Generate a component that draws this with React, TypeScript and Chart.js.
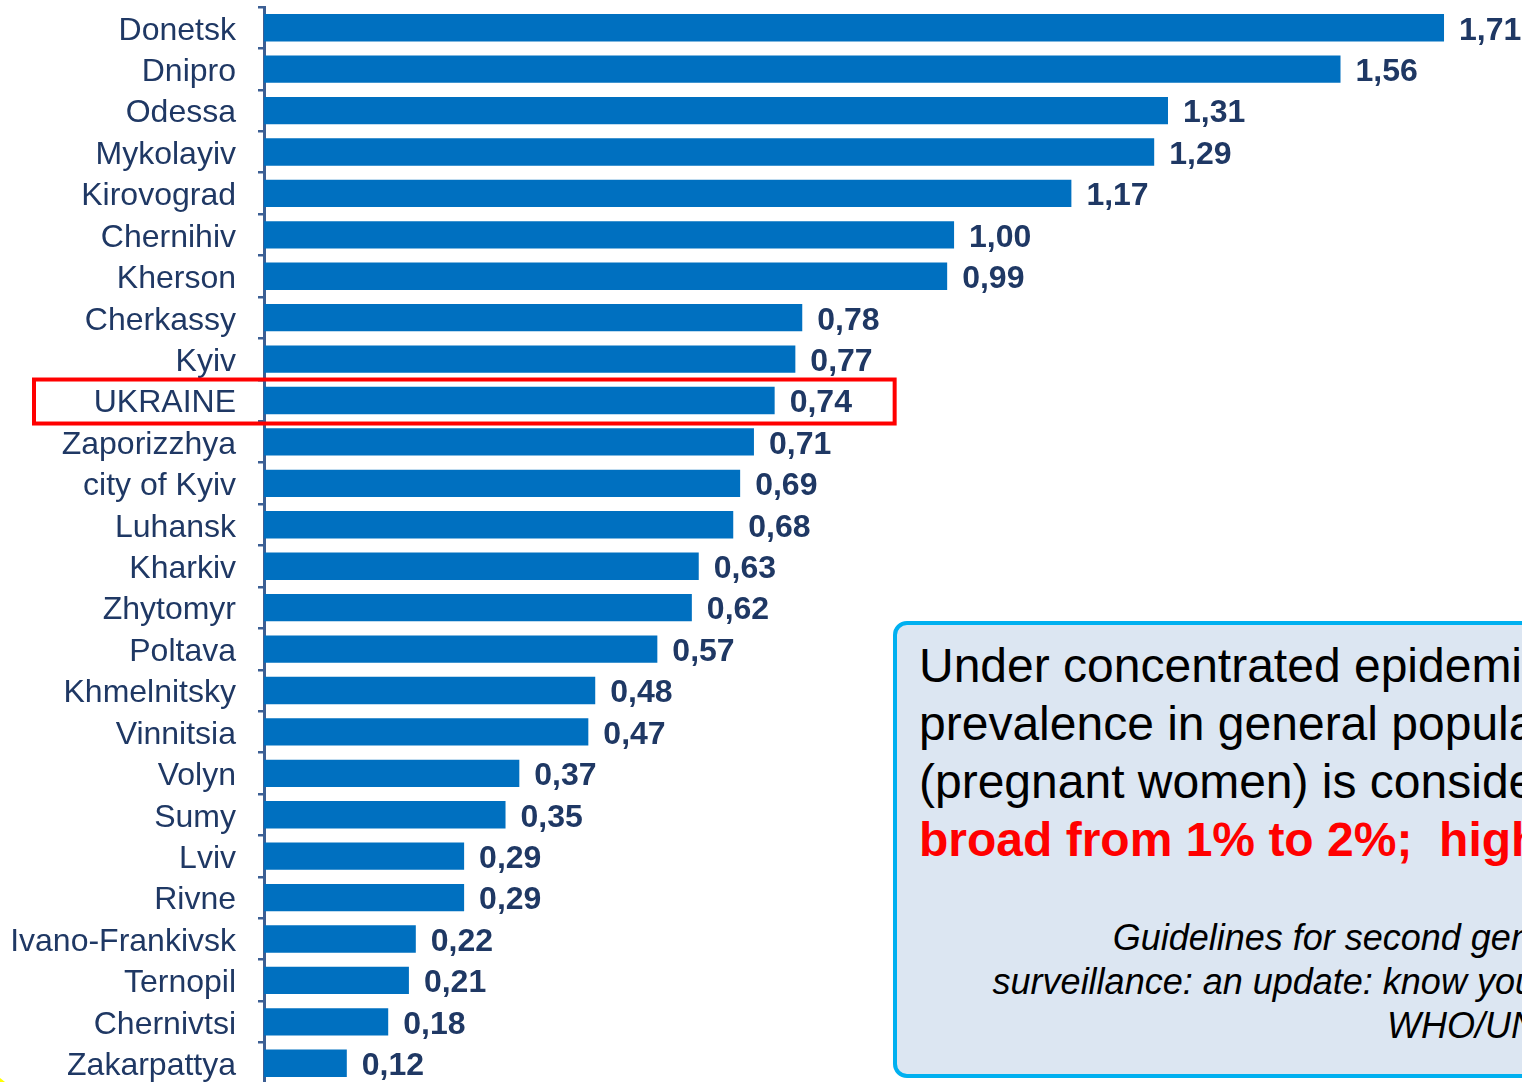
import React, { useEffect, useRef } from "react";
import { Chart, registerables } from "chart.js";

Chart.register(...registerables);

const categories = [
  "Donetsk", "Dnipro", "Odessa", "Mykolayiv", "Kirovograd", "Chernihiv", "Kherson",
  "Cherkassy", "Kyiv", "UKRAINE", "Zaporizzhya", "city of Kyiv", "Luhansk", "Kharkiv",
  "Zhytomyr", "Poltava", "Khmelnitsky", "Vinnitsia", "Volyn", "Sumy", "Lviv", "Rivne",
  "Ivano-Frankivsk", "Ternopil", "Chernivtsi", "Zakarpattya",
];
const values = [
  1.71, 1.56, 1.31, 1.29, 1.17, 1.0, 0.99, 0.78, 0.77, 0.74, 0.71, 0.69, 0.68, 0.63,
  0.62, 0.57, 0.48, 0.47, 0.37, 0.35, 0.29, 0.29, 0.22, 0.21, 0.18, 0.12,
];
const highlightCategory = "UKRAINE";
const xMax = 1.823;

const boxLines = [
  "Under concentrated epidemic, HIV",
  "prevalence in general population",
  "(pregnant women) is considered",
];
const boxRedLine = "broad from 1% to 2%;  high from 2%";
const citationLines = [
  "Guidelines for second generation HIV",
  "surveillance: an update: know your epidemic.",
  "WHO/UNAIDS 2013",
];

const FONT = "'Liberation Sans', Arial, Helvetica, sans-serif";
const NAVY = "#1F3864";

export default function App() {
  const canvasRef = useRef<HTMLCanvasElement | null>(null);

  useEffect(() => {
    const canvas = canvasRef.current;
    if (!canvas) return;

    const valueLabels = {
      id: "valueLabels",
      afterDatasetsDraw(chart: any) {
        const ctx = chart.ctx;
        const meta = chart.getDatasetMeta(0);
        ctx.save();
        ctx.font = `bold 32px ${FONT}`;
        ctx.fillStyle = NAVY;
        ctx.textAlign = "left";
        ctx.textBaseline = "middle";
        meta.data.forEach((bar: any, i: number) => {
          const txt = values[i].toFixed(2).replace(".", ",");
          ctx.fillText(txt, bar.x + 15, bar.y + 3);
        });
        ctx.restore();
      },
    };

    const highlightBox = {
      id: "highlightBox",
      afterDraw(chart: any) {
        const idx = categories.indexOf(highlightCategory);
        if (idx < 0) return;
        const ctx = chart.ctx;
        const y = chart.scales.y.getPixelForValue(idx);
        const xs = chart.scales.x;
        const left = chart.chartArea.left - 230;
        const right = xs.getPixelForValue(values[idx]) + 120;
        ctx.save();
        ctx.strokeStyle = "#FF0000";
        ctx.lineWidth = 4;
        ctx.strokeRect(left, y - 21, right - left, 44);
        ctx.restore();
      },
    };

    const chart = new Chart(canvas, {
      type: "bar",
      data: {
        labels: categories,
        datasets: [
          {
            data: values,
            backgroundColor: "#0070C0",
            borderWidth: 0,
            barPercentage: 0.66,
            categoryPercentage: 1,
          },
        ],
      },
      options: {
        indexAxis: "y",
        animation: false,
        responsive: false,
        maintainAspectRatio: false,
        devicePixelRatio: 1,
        layout: { autoPadding: false, padding: { top: 7, right: 0, bottom: 0, left: 0 } },
        plugins: {
          legend: { display: false },
          tooltip: { enabled: false },
          title: { display: false },
        },
        scales: {
          x: {
            display: false,
            min: 0,
            max: xMax,
          },
          y: {
            offset: true,
            afterFit(scale: any) {
              scale.width = 264;
              scale.paddingTop = 0;
              scale.paddingBottom = 0;
            },
            grid: {
              offset: true,
              drawOnChartArea: false,
              drawTicks: true,
              tickLength: 6,
              color: "#3C5F94",
              lineWidth: 2.5,
            },
            border: { display: true, color: "#3C5F94", width: 3 },
            ticks: {
              padding: 22,
              labelOffset: 3,
              color: NAVY,
              font: { family: FONT, size: 32 },
              autoSkip: false,
            },
          },
        },
      },
      plugins: [valueLabels, highlightBox],
    } as any);

    return () => chart.destroy();
  }, []);

  return (
    <div
      style={{
        position: "fixed",
        left: 0,
        top: 0,
        width: 1522,
        height: 1082,
        overflow: "hidden",
        background: "#ffffff",
      }}
    >
      <canvas
        ref={canvasRef}
        width={1522}
        height={1084}
        style={{ position: "absolute", left: 0, top: 0, width: 1522, height: 1084 }}
      />
      <div
        style={{
          position: "absolute",
          left: -40,
          top: 1074,
          width: 52,
          height: 52,
          borderRadius: "50%",
          background: "#FFFF00",
        }}
      />
      <div
        style={{
          position: "absolute",
          left: 893,
          top: 621,
          width: 900,
          height: 457,
          boxSizing: "border-box",
          border: "4px solid #00B0F0",
          borderRadius: 14,
          background: "#DCE6F2",
          fontFamily: FONT,
          padding: "12px 0 0 22px",
          whiteSpace: "nowrap",
        }}
      >
        {boxLines.map((l, i) => (
          <div key={i} style={{ fontSize: 48, lineHeight: "58px", color: "#000000" }}>
            {l}
          </div>
        ))}
        <div
          style={{
            fontSize: 48,
            lineHeight: "58px",
            color: "#FF0000",
            fontWeight: "bold",
            whiteSpace: "pre",
          }}
        >
          {boxRedLine}
        </div>
        <div style={{ marginTop: 47, width: 792 }}>
          {citationLines.map((l, i) => (
            <div
              key={i}
              style={{
                fontSize: 36,
                lineHeight: "44px",
                fontStyle: "italic",
                color: "#000000",
                textAlign: "right",
              }}
            >
              {l}
            </div>
          ))}
        </div>
      </div>
    </div>
  );
}
